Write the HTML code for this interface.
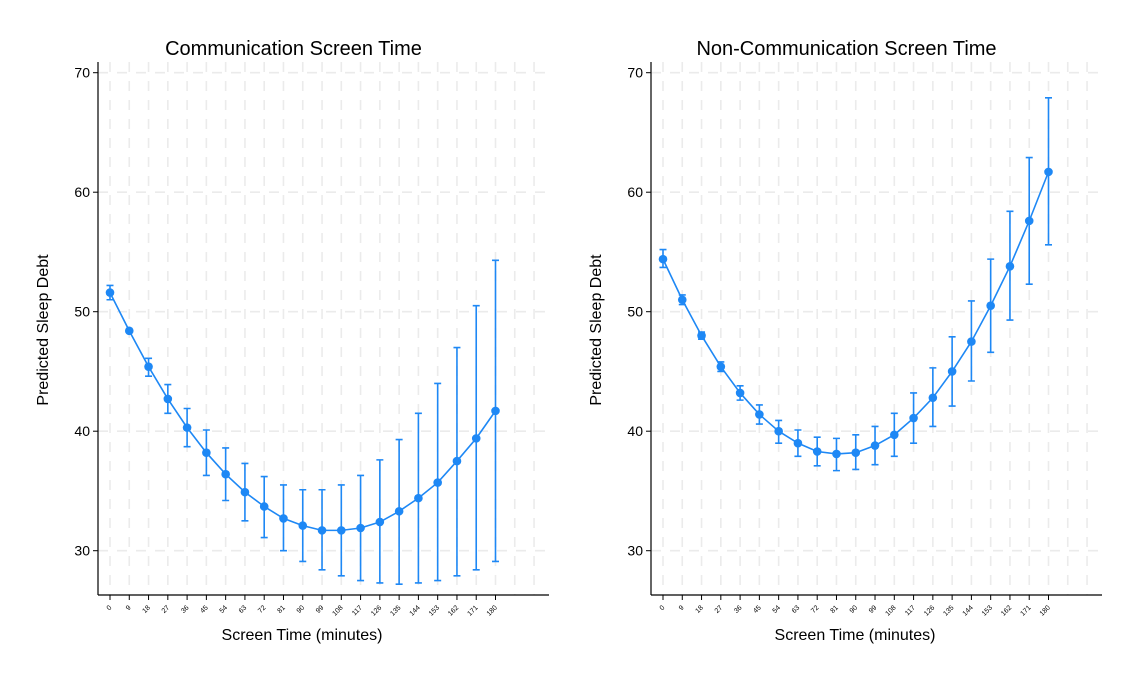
<!DOCTYPE html>
<html><head><meta charset="utf-8"><style>
body{margin:0;background:#fff;}
svg text{font-family:"Liberation Sans",Arial,sans-serif;fill:#000;}
</style></head><body>
<svg id="chart" width="1136" height="682" xmlns="http://www.w3.org/2000/svg"></svg>
<script>
const categories=[0,9,18,27,36,45,54,63,72,81,90,99,108,117,126,135,144,153,162,171,180];
const yTicks=[30,40,50,60,70];
const commMean=[51.6,48.4,45.4,42.7,40.3,38.2,36.4,34.9,33.7,32.7,32.1,31.7,31.7,31.9,32.4,33.3,34.4,35.7,37.5,39.4,41.7];
const commUpper=[52.2,48.5,46.1,43.9,41.9,40.1,38.6,37.3,36.2,35.5,35.1,35.1,35.5,36.3,37.6,39.3,41.5,44.0,47.0,50.5,54.3];
const commLower=[51.0,48.3,44.6,41.5,38.7,36.3,34.2,32.5,31.1,30.0,29.1,28.4,27.9,27.5,27.3,27.2,27.3,27.5,27.9,28.4,29.1];
const nonMean=[54.4,51.0,48.0,45.4,43.2,41.4,40.0,39.0,38.3,38.1,38.2,38.8,39.7,41.1,42.8,45.0,47.5,50.5,53.8,57.6,61.7];
const nonUpper=[55.2,51.4,48.3,45.8,43.8,42.2,40.9,40.1,39.5,39.4,39.7,40.4,41.5,43.2,45.3,47.9,50.9,54.4,58.4,62.9,67.9];
const nonLower=[53.7,50.6,47.7,45.0,42.6,40.6,39.0,37.9,37.1,36.7,36.8,37.2,37.9,39.0,40.4,42.1,44.2,46.6,49.3,52.3,55.6];

const NS="http://www.w3.org/2000/svg";
const svg=document.getElementById('chart');
function mk(tag,attrs,parent){const e=document.createElementNS(NS,tag);for(const k in attrs)e.setAttribute(k,attrs[k]);(parent||svg).appendChild(e);return e;}
const BLUE="#1e88f5";
function panel(ox,title,mean,up,lo,name){
  const g=mk('g',{});
  
  
  const axX=ox, x0=ox+12, step=(385.5)/180, xEnd=ox+451, yTop=62, yBot=595;
  const xs=v=>x0+v*step;
  const ys=v=>550.7-(v-30)*11.95;
  // grid vertical
  for(let v=0;v*step+x0<xEnd-3;v+=9){
    const l=mk('line',{x1:xs(v),x2:xs(v),y1:yTop,y2:yBot,stroke:'#ebebeb','stroke-width':1.6,'stroke-dasharray':'10,9'},g);
    
    
  }
  yTicks.forEach(t=>{
    const l=mk('line',{x1:axX,x2:xEnd,y1:ys(t),y2:ys(t),stroke:'#ebebeb','stroke-width':1.6,'stroke-dasharray':'10,9'},g);
    
    
    const tk=mk('line',{x1:axX-5,x2:axX,y1:ys(t),y2:ys(t),stroke:'#000','stroke-width':1},g);
    
    
    const tx=mk('text',{x:axX-8,y:ys(t)+5,'text-anchor':'end','font-size':14},g);
    tx.textContent=t;
    
    
  });
  // axes
  const ya=mk('line',{x1:axX,x2:axX,y1:yTop,y2:yBot,stroke:'#000','stroke-width':1.2},g);
  
  
  const xa=mk('line',{x1:axX,x2:xEnd,y1:yBot,y2:yBot,stroke:'#000','stroke-width':1.2},g);
  
  
  categories.forEach(c=>{
    const tk=mk('line',{x1:xs(c),x2:xs(c),y1:yBot,y2:yBot+5,stroke:'#000','stroke-width':1},g);
    
    
    const tx=mk('text',{x:xs(c)+2,y:yBot+13,'text-anchor':'end','font-size':7,transform:`rotate(-45 ${xs(c)+2} ${yBot+13})`},g);
    tx.textContent=c;
    
    
  });
  // error bars
  categories.forEach((c,i)=>{
    const x=xs(c);
    const e=mk('path',{d:`M${x},${ys(up[i])}V${ys(lo[i])}M${x-3.5},${ys(up[i])}H${x+3.5}M${x-3.5},${ys(lo[i])}H${x+3.5}`,stroke:BLUE,'stroke-width':1.6,fill:'none'},g);
    
    
  });
  const pl=mk('polyline',{points:categories.map((c,i)=>xs(c)+','+ys(mean[i])).join(' '),fill:'none',stroke:BLUE,'stroke-width':1.6},g);
  
  
  categories.forEach((c,i)=>{
    const p=mk('circle',{cx:xs(c),cy:ys(mean[i]),r:4.3,fill:BLUE},g);
    
    
  });
  const t=mk('text',{x:(axX+xEnd)/2-30,y:55,'text-anchor':'middle','font-size':20},g);
  t.textContent=title;
  
  
  const yl=mk('text',{x:ox-50,y:330,'text-anchor':'middle','font-size':16,transform:`rotate(-90 ${ox-50} 330)`},g);
  yl.textContent='Predicted Sleep Debt';
  
  
  const xl=mk('text',{x:x0+192,y:640,'text-anchor':'middle','font-size':16},g);
  xl.textContent='Screen Time (minutes)';
  
  
}
panel(98,'Communication Screen Time',commMean,commUpper,commLower,'communication-panel');
panel(651,'Non-Communication Screen Time',nonMean,nonUpper,nonLower,'non-communication-panel');
</script>
</body></html>
